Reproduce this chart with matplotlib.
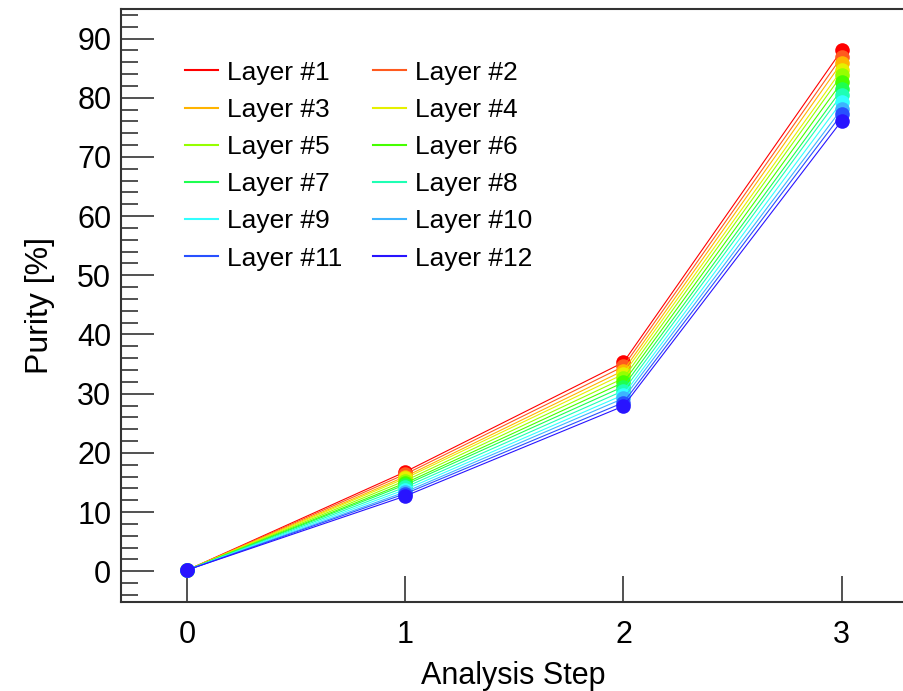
import matplotlib
matplotlib.use("Agg")
import matplotlib.pyplot as plt
from matplotlib.ticker import MultipleLocator

plt.rcParams['font.family'] = ['Liberation Sans', 'DejaVu Sans']

steps = [0, 1, 2, 3]
layers = ["Layer #1", "Layer #2", "Layer #3", "Layer #4", "Layer #5", "Layer #6",
          "Layer #7", "Layer #8", "Layer #9", "Layer #10", "Layer #11", "Layer #12"]
colors = ["#ff0000", "#ff5a1e", "#ffb400", "#e6f000", "#96ff00", "#46ff00",
          "#1eff50", "#1effb4", "#32ffff", "#3cb4ff", "#2850ff", "#2814ff"]

layer1 = [0.2, 16.8, 35.3, 88.0]
layer2 = [0.2, 16.4, 34.6, 86.9]
layer3 = [0.2, 16.0, 33.9, 85.9]
layer4 = [0.2, 15.7, 33.3, 84.7]
layer5 = [0.2, 15.3, 32.6, 83.8]
layer6 = [0.2, 14.9, 31.9, 82.6]
layer7 = [0.2, 14.6, 31.2, 81.4]
layer8 = [0.2, 14.2, 30.5, 80.5]
layer9 = [0.2, 13.8, 29.8, 79.3]
layer10 = [0.2, 13.4, 29.2, 78.1]
layer11 = [0.2, 13.1, 28.5, 77.2]
layer12 = [0.2, 12.7, 27.9, 76.1]
values = [layer1, layer2, layer3, layer4, layer5, layer6,
          layer7, layer8, layer9, layer10, layer11, layer12]

fig = plt.figure(figsize=(9.04, 6.91), dpi=100)
ax = fig.add_axes([121/904, 1 - 602/691, 1 - 121/904 + 0.001, (602 - 9)/691])

handles = []
for name, col, vals in zip(layers, colors, values):
    ax.plot(steps, vals, color=col, lw=0.8, marker='o', ms=10.5, mec='none', mfc=col)
    h, = ax.plot([], [], color=col, lw=1.5, label=name)
    handles.append(h)

ax.set_xlim(-0.303, 3.29)
ax.set_ylim(-5.2, 95)
ax.set_xticks(steps)
ax.yaxis.set_major_locator(MultipleLocator(10))
ax.yaxis.set_minor_locator(MultipleLocator(2))
ax.tick_params(axis='y', which='major', direction='in', length=24, width=1.2,
               labelsize=22, pad=7, color='#333333')
ax.tick_params(axis='y', which='minor', direction='in', length=12, width=1.2, color='#333333')
ax.tick_params(axis='x', which='major', direction='in', length=19, width=1.2,
               labelsize=22, pad=13, color='#333333')
for s in ['left', 'bottom', 'top']:
    ax.spines[s].set_linewidth(1.5)
    ax.spines[s].set_color('#333333')
ax.spines['right'].set_visible(False)

ax.set_xlabel("Analysis Step", fontsize=22, labelpad=8)
ax.set_ylabel("Purity [%]", fontsize=23, labelpad=16)

# row-major legend order: column 1 holds odd layers, column 2 even layers
order = list(range(0, 12, 2)) + list(range(1, 12, 2))
leg = ax.legend(handles=[handles[i] for i in order], ncol=2, loc='upper left',
                bbox_to_anchor=(0.0817, 0.913), borderaxespad=0,
                frameon=False, fontsize=19, handlelength=1.25, handletextpad=0.34,
                columnspacing=1.15, labelspacing=0.5, borderpad=0)

fig.savefig("out.png", dpi=100)
